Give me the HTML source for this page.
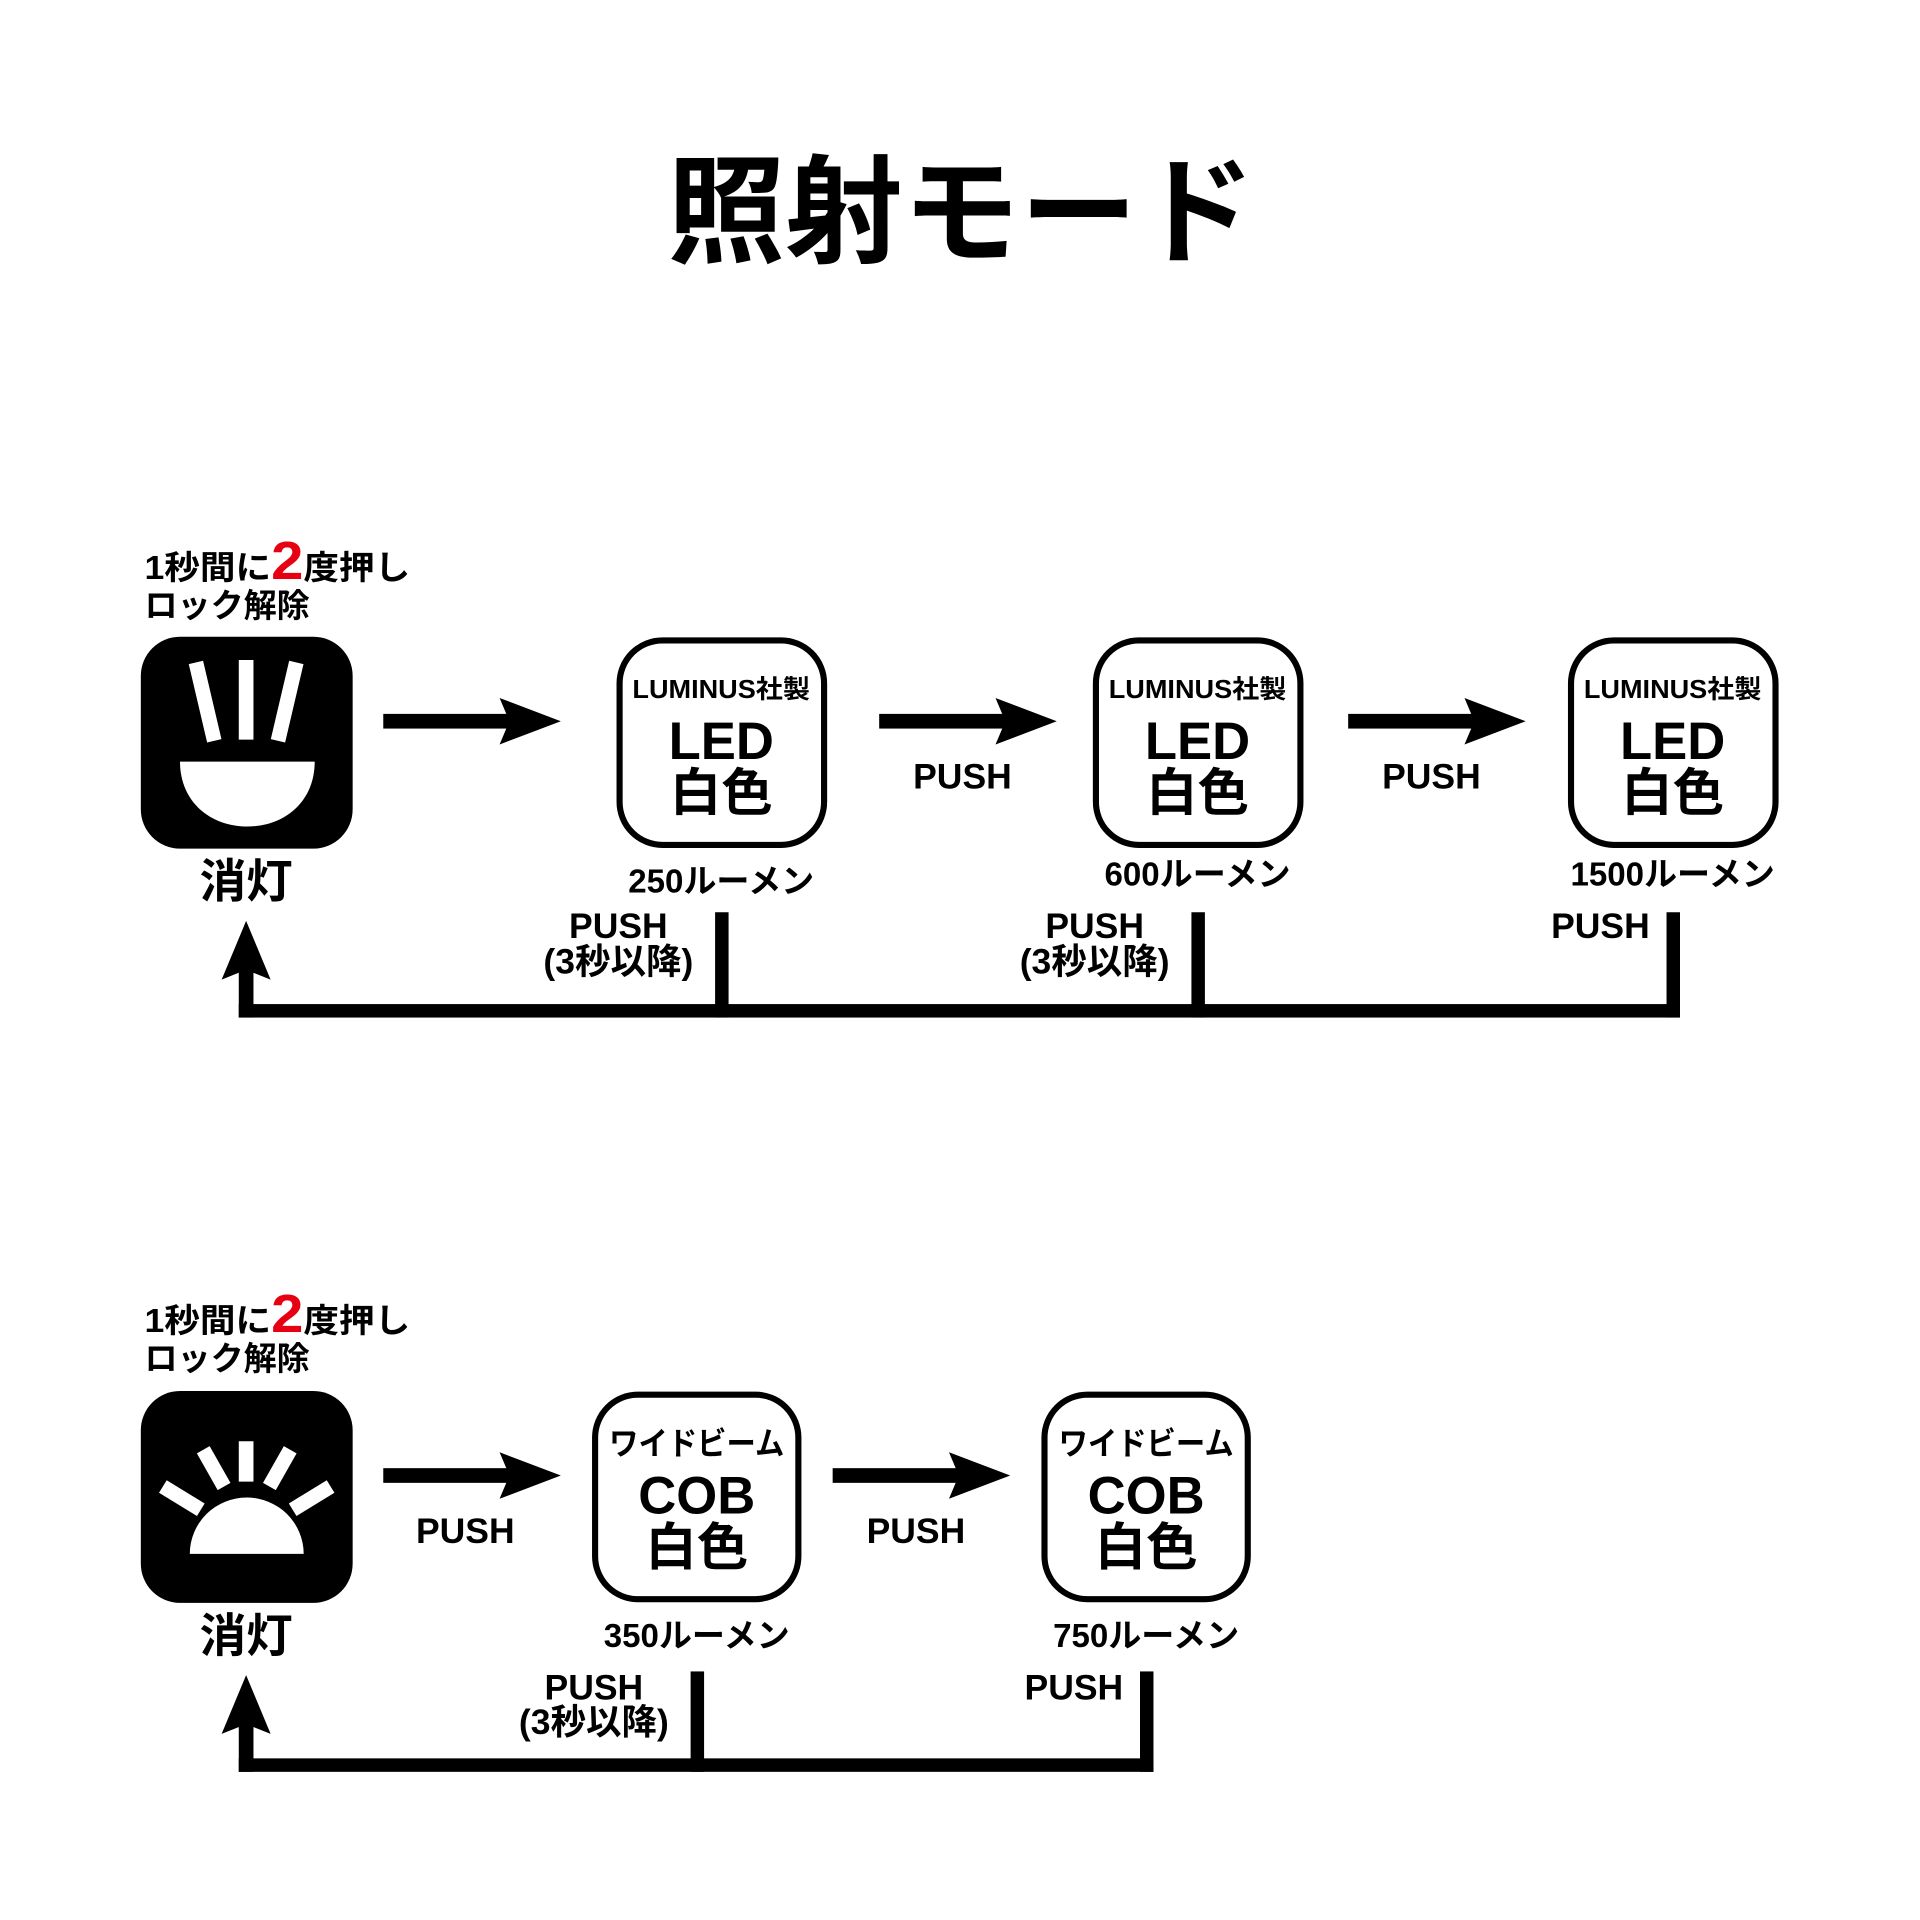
<!DOCTYPE html>
<html><head><meta charset="utf-8"><style>
html,body{margin:0;padding:0;background:#fff;width:1920px;height:1920px;overflow:hidden}
text{font-family:"Liberation Sans","Noto Sans CJK JP",sans-serif;font-weight:bold;fill:#000}
</style></head><body>
<svg width="1920" height="1920" viewBox="0 0 1568 1568" xmlns="http://www.w3.org/2000/svg">
<defs>
<g id="arr"><rect x="0" y="-6" width="110" height="12"/><path d="M95,-19 L145,0 L95,19 L103,0 Z"/></g>
<g id="up"><path d="M-20,48 L0,0 L20,48 L0,40 Z"/></g>
</defs>
<text x="785" y="207" font-size="96" text-anchor="middle">照射モード</text>

<!-- Row 1 -->
<text x="118" y="473" font-size="27" textLength="217" lengthAdjust="spacingAndGlyphs">1秒間に<tspan style="fill:#e60012" font-size="44">2</tspan>度押し</text>
<text x="118" y="504" font-size="27">ロック解除</text>
<rect x="115" y="520" width="173" height="173" rx="32" fill="#000"/>
<g stroke="#fff" stroke-width="12">
<line x1="160" y1="541" x2="175" y2="605"/>
<line x1="201" y1="539" x2="201" y2="604"/>
<line x1="242" y1="541" x2="227" y2="605"/>
</g>
<path d="M147,622 L257,622 C257,655 232,675 202,675 C172,675 147,655 147,622 Z" fill="#fff"/>
<text x="201" y="733" font-size="38" text-anchor="middle">消灯</text>

<use href="#arr" x="313" y="589"/>
<use href="#arr" x="718" y="589"/>
<use href="#arr" x="1101" y="589"/>
<text x="786" y="644" font-size="29" text-anchor="middle">PUSH</text>
<text x="1169" y="644" font-size="29" text-anchor="middle">PUSH</text>

<g fill="#fff" stroke="#000" stroke-width="5">
<rect x="506" y="523" width="167" height="167" rx="35"/>
<rect x="895" y="523" width="167" height="167" rx="35"/>
<rect x="1283" y="523" width="167" height="167" rx="35"/>
</g>
<g text-anchor="middle">
<text x="589" y="570" font-size="21" textLength="145" lengthAdjust="spacingAndGlyphs">LUMINUS社製</text>
<text x="589" y="620" font-size="43">LED</text>
<text x="589" y="662" font-size="42">白色</text>
<text x="978" y="570" font-size="21" textLength="145" lengthAdjust="spacingAndGlyphs">LUMINUS社製</text>
<text x="978" y="620" font-size="43">LED</text>
<text x="978" y="662" font-size="42">白色</text>
<text x="1366" y="570" font-size="21" textLength="145" lengthAdjust="spacingAndGlyphs">LUMINUS社製</text>
<text x="1366" y="620" font-size="43">LED</text>
<text x="1366" y="662" font-size="42">白色</text>
<text x="589" y="729" font-size="27">250ルーメン</text>
<text x="978" y="723" font-size="27">600ルーメン</text>
<text x="1366" y="723" font-size="27">1500ルーメン</text>
<text x="505" y="766" font-size="29">PUSH</text>
<text x="505" y="795" font-size="29">(3秒以降)</text>
<text x="894" y="766" font-size="29">PUSH</text>
<text x="894" y="795" font-size="29">(3秒以降)</text>
<text x="1307" y="766" font-size="29">PUSH</text>
</g>
<rect x="584" y="745" width="11" height="86"/>
<rect x="973" y="745" width="11" height="86"/>
<rect x="1361" y="745" width="11" height="86"/>
<rect x="195" y="820" width="1177" height="11"/>
<rect x="195" y="788" width="12" height="43"/>
<use href="#up" x="201" y="752"/>

<!-- Row 2 -->
<text x="118" y="1088" font-size="27" textLength="217" lengthAdjust="spacingAndGlyphs">1秒間に<tspan style="fill:#e60012" font-size="44">2</tspan>度押し</text>
<text x="118" y="1119" font-size="27">ロック解除</text>
<rect x="115" y="1136" width="173" height="173" rx="32" fill="#000"/>
<g stroke="#fff" stroke-width="12">
<line x1="201" y1="1177" x2="201" y2="1210"/>
<line x1="166" y1="1184" x2="183" y2="1214"/>
<line x1="237" y1="1184" x2="220" y2="1214"/>
<line x1="133" y1="1214" x2="164" y2="1233"/>
<line x1="270" y1="1214" x2="239" y2="1233"/>
</g>
<path d="M155,1269 A46.5,46 0 0 1 248,1269 Z" fill="#fff"/>
<text x="201" y="1349" font-size="38" text-anchor="middle">消灯</text>

<use href="#arr" x="313" y="1205"/>
<use href="#arr" x="680" y="1205"/>
<text x="380" y="1260" font-size="29" text-anchor="middle">PUSH</text>
<text x="748" y="1260" font-size="29" text-anchor="middle">PUSH</text>

<g fill="#fff" stroke="#000" stroke-width="5">
<rect x="486" y="1139" width="166" height="167" rx="35"/>
<rect x="853" y="1139" width="166" height="167" rx="35"/>
</g>
<g text-anchor="middle">
<text x="569" y="1188" font-size="26" textLength="143" lengthAdjust="spacingAndGlyphs">ワイドビーム</text>
<text x="569" y="1236" font-size="43">COB</text>
<text x="569" y="1278" font-size="42">白色</text>
<text x="936" y="1188" font-size="26" textLength="143" lengthAdjust="spacingAndGlyphs">ワイドビーム</text>
<text x="936" y="1236" font-size="43">COB</text>
<text x="936" y="1278" font-size="42">白色</text>
<text x="569" y="1345" font-size="27">350ルーメン</text>
<text x="936" y="1345" font-size="27">750ルーメン</text>
<text x="485" y="1388" font-size="29">PUSH</text>
<text x="485" y="1416" font-size="29">(3秒以降)</text>
<text x="877" y="1388" font-size="29">PUSH</text>
</g>
<rect x="564" y="1365" width="11" height="82"/>
<rect x="931" y="1365" width="11" height="82"/>
<rect x="195" y="1436" width="747" height="11"/>
<rect x="195" y="1404" width="12" height="43"/>
<use href="#up" x="201" y="1368"/>
</svg>
</body></html>
